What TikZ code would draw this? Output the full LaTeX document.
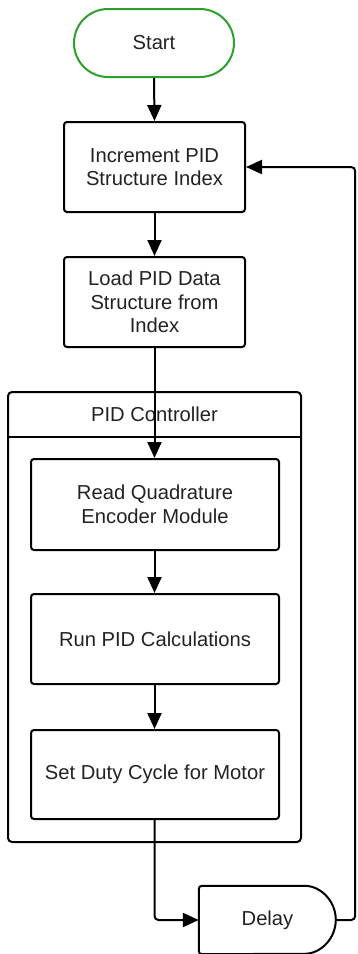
\documentclass[tikz,border=0pt]{standalone}
\usepackage{fontspec}
\setmainfont{Liberation Sans}
\usetikzlibrary{arrows.meta}
\definecolor{termgreen}{RGB}{44,160,44}
\definecolor{txt}{RGB}{34,34,34}
\tikzset{
  lbl/.style={text=txt, font=\fontsize{20.2}{23.5}\selectfont},
  box/.style={draw=black, line width=2pt, rounded corners=3pt, align=center,
    lbl, inner sep=0pt},
  smallbox/.style={box, minimum width=181pt, minimum height=90pt},
  bigbox/.style={box, minimum width=248pt, minimum height=90pt},
  flow/.style={line width=2pt, -{Triangle[length=16pt,width=14pt]}},
}
\begin{document}
\begin{tikzpicture}[x=1pt,y=-1pt]
\useasboundingbox (0,0) rectangle (357,954);

% container with title band
\node (ctrl) [draw=black, line width=2pt, rounded corners=4pt,
  minimum width=293pt, minimum height=450pt, inner sep=0pt] at (154.5,617) {};
\node (ctrltitle) [minimum width=293pt, minimum height=45pt, inner sep=0pt,
  lbl] at (154.5,414.5) {PID Controller};
\draw[line width=2pt] (ctrltitle.south west) -- (ctrltitle.south east);

% terminal
\node (start) [box, draw=termgreen, rounded corners=34pt,
  minimum width=160pt, minimum height=68pt] at (154,43) {Start};

% process steps
\node (inc)  [smallbox] at (154.5,167) {Increment PID\\Structure Index};
\node (load) [smallbox] at (154.5,302) {Load PID Data\\Structure from\\Index};
\node (read) [bigbox, minimum height=91pt] at (155,504.5) {Read Quadrature\\Encoder Module};
\node (run)  [bigbox] at (155,639) {Run PID Calculations};
\node (set)  [bigbox, minimum height=89pt] at (155,774.5) {Set Duty Cycle for Motor};

% delay block: flat left side, rounded right side
\node (delay) [minimum width=137pt, minimum height=68pt, inner sep=0pt,
  lbl] at (267.5,920) {Delay};
\draw[line width=2pt, rounded corners=3pt]
  (delay.north west) -- ++(103,0)
  arc[start angle=90, end angle=-90, radius=34pt]
  -- (delay.south west) -- cycle;

% connectors
\draw[flow] (start.south) -- (inc.north);
\draw[flow] (inc.south) -- (load.north);
\draw[flow] (load.south) -- (read.north -| load.south);
\draw[flow] (read.south -| load.south) -- (run.north -| load.south);
\draw[flow] (run.south -| load.south) -- (set.north -| load.south);
\draw[flow, rounded corners=4pt] (set.south -| load.south) |- (delay.west);
\draw[flow, rounded corners=4pt] (delay.east) -- ++(19,0) |- (inc.east);
\end{tikzpicture}
\end{document}
